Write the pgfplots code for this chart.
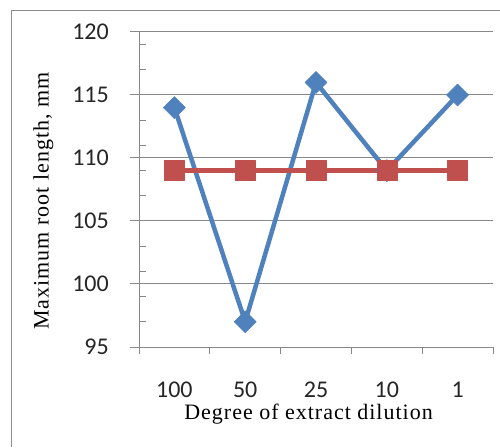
\documentclass[border=0pt]{standalone}
\usepackage{fontspec}
\setmainfont{Liberation Serif}
\newfontfamily\carlito{Carlito}
\newfontfamily\timesls[LetterSpace=4.5]{Liberation Serif}
\usepackage{pgfplots}
\pgfplotsset{compat=1.18}
\definecolor{myblue}{HTML}{4F81BD}
\definecolor{myred}{HTML}{C0504D}
\definecolor{gridgray}{HTML}{888888}
\begin{document}
\begin{tikzpicture}[x=1pt,y=1pt]
\useasboundingbox (0,0) rectangle (500,447);
\draw[color=black!45, line width=1.5pt] (11.5,0) -- (11.5,436.5) -- (500,436.5);
\begin{axis}[
 at={(139pt,100pt)}, anchor=south west, scale only axis, width=354pt, height=315pt,
 xmin=0.5, xmax=5.5, ymin=95, ymax=120,
 clip=false,
 /pgf/number format/assume math mode=true,
 axis x line*=bottom, axis y line*=left,
 axis line style={gridgray, line width=1pt, -},
 xtick={1,...,5}, xticklabels={100,50,25,10,1},
 minor xtick={0.5,1.5,...,5.5},
 ytick={95,100,...,120}, minor ytick={97,99,...,119},
 ymajorgrids, major grid style={gridgray, line width=1pt},
 tick align=outside, major tick length=9pt, minor tick length=7pt,
 every tick/.style={gridgray, line width=1pt},
 major x tick style={draw=none},
 minor y tick style={xshift=7pt},
 tick label style={font=\carlito\fontsize{24}{26}\selectfont, text=black!85, inner sep=0pt},
 xticklabel style={anchor=north, yshift=-26pt},
 yticklabel style={anchor=east, xshift=-21pt},
 xlabel={Degree of extract dilution},
 ylabel={Maximum root length, mm},
 xlabel style={font=\timesls\fontsize{22}{24}\selectfont, at={(axis description cs:0.479,-0.213)}, anchor=center},
 ylabel style={font=\timesls\fontsize{22}{24}\selectfont, at={(axis description cs:-0.27,0.463)}, anchor=center},
]
\addplot[myblue, line width=4.5pt, line join=round, mark=square*, mark size=7.8pt,
  mark options={rotate=45, solid, fill=myblue, draw=myblue, line width=0.5pt}]
  coordinates {(1,114) (2,97) (3,116) (4,109) (5,115)};
\addplot[myred, line width=4.5pt, line join=round, mark=square*, mark size=10pt,
  mark options={solid, fill=myred, draw=myred, line width=0.5pt}]
  coordinates {(1,109) (2,109) (3,109) (4,109) (5,109)};
\end{axis}
\end{tikzpicture}
\end{document}
